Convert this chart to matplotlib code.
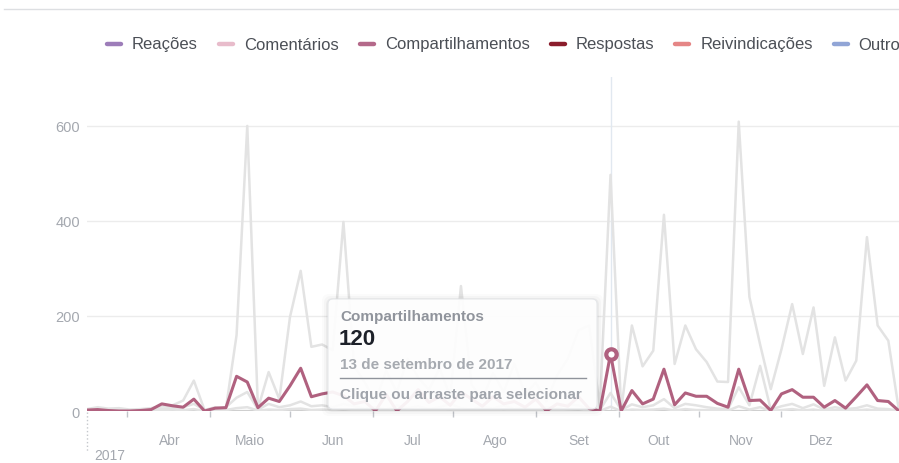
import matplotlib
matplotlib.use("Agg")
import matplotlib.pyplot as plt
from matplotlib.patches import FancyBboxPatch
from matplotlib.lines import Line2D
from matplotlib.transforms import IdentityTransform
import matplotlib.dates as mdates
import pandas as pd

W, H = 899, 464
plt.rcParams["font.family"] = ["Liberation Sans", "DejaVu Sans"]

# samples every 4 days, March to December 2017
dates = pd.date_range("2017-03-01", periods=77, freq="4D")

reacoes = [4, 8, 5, 6, 3, 4, 6, 10, 12, 22, 64, 2, 8, 5, 160, 600, 5, 82, 25, 198, 295, 135, 140, 128, 398,
           95, 60, 20, 85, 40, 110, 70, 45, 90, 30, 263, 55, 25, 80, 40, 100, 35, 60, 20, 75, 110, 170, 180, 8,
           497, 2, 180, 94, 127, 413, 99, 180, 130, 103, 62, 61, 609, 240, 140, 46, 130, 225, 120, 218, 53, 155,
           64, 106, 366, 180, 148, 0]
comentarios = [2, 3, 2, 1, 1, 2, 3, 5, 6, 8, 15, 2, 5, 8, 28, 40, 3, 15, 8, 12, 20, 10, 12, 8, 15,
               10, 5, 8, 3, 12, 6, 10, 4, 8, 15, 6, 3, 9, 5, 12, 4, 7, 2, 8, 6, 14, 12, 3, 2,
               38, 2, 14, 8, 12, 25, 6, 15, 12, 8, 5, 4, 50, 12, 95, 3, 10, 15, 6, 14, 3, 8, 4, 6, 12, 5, 4, 0]
compartilhamentos = [2, 3, 1, 0, 0, 1, 3, 15, 11, 8, 25, 0, 6, 7, 73, 61, 7, 27, 20, 53, 90, 30, 36,
                     40, 32, 15, 20, 0, 35, 0, 20, 45, 18, 30, 12, 40, 25, 10, 30, 15, 20, 8, 25, 0, 15, 10, 30, 5, 0,
                     120, 0, 43, 15, 25, 88, 13, 38, 31, 31, 16, 8, 88, 22, 23, 1, 36, 45, 29, 29, 8, 22, 6, 30, 55,
                     22, 20, 0]
respostas = [1, 2, 1, 0, 0, 1, 1, 2, 3, 2, 4, 0, 1, 2, 6, 8, 1, 3, 2, 4, 5, 2, 3, 2, 4,
             2, 1, 2, 0, 3, 1, 2, 1, 2, 3, 1, 0, 2, 1, 3, 1, 2, 0, 1, 2, 3, 4, 1, 0,
             9, 0, 3, 2, 3, 5, 1, 4, 2, 2, 1, 1, 10, 3, 8, 0, 2, 4, 1, 3, 0, 2, 1, 1, 3, 1, 1, 0]

legend_labels = ["Reações", "Comentários", "Compartilhamentos", "Respostas", "Reivindicações", "Outros"]
legend_colors = ["#9d7db9", "#e8bccb", "#b4698a", "#8b1d2c", "#e58686", "#91a5d6"]

month_labels = ["Abr", "Maio", "Jun", "Jul", "Ago", "Set", "Out", "Nov", "Dez"]
month_starts = pd.date_range("2017-04-01", periods=9, freq="MS")
mid_months = [pd.Timestamp(2017, m, 16) for m in range(3, 12)]
meses = ["janeiro", "fevereiro", "março", "abril", "maio", "junho", "julho",
         "agosto", "setembro", "outubro", "novembro", "dezembro"]

hover = 49
SHARE = "#b0617f"
GRAY = "#e3e3e3"
AXIS_TXT = "#a4a8af"


def fx(x):
    return x / W


def fy(y):
    return 1 - y / H


fig = plt.figure(figsize=(W / 100, H / 100), dpi=100)
ax = fig.add_axes([fx(87), fy(412), fx(899 - 87), (412 - 78) / H])

for series in (respostas, comentarios, reacoes):
    ax.plot(dates, series, color=GRAY, lw=1.8, zorder=3)
ax.axvline(dates[hover], color="#e1e8f0", lw=1.0, zorder=1)
ax.axhline(0, color="#cfcfcf", lw=1.6, zorder=2)
ax.plot(dates, compartilhamentos, color=SHARE, lw=2.2, zorder=5)
ax.plot(dates[hover], compartilhamentos[hover], "o", ms=7.5, mfc="white", mec=SHARE, mew=3, zorder=6)

ax.set_xlim(dates[0], dates[-1])
ax.set_ylim(0, 703)
for s in ax.spines.values():
    s.set_visible(False)
ax.set_yticks([0, 200, 400, 600])
ax.set_yticklabels(["0", "200", "400", "600"])
ax.yaxis.grid(True, color="#ececec", lw=1.0)
ax.set_axisbelow(True)
ax.tick_params(axis="y", length=0, pad=5, labelsize=10.5, labelcolor=AXIS_TXT)

ax.set_xticks(mdates.date2num(month_starts))
ax.set_xticklabels(month_labels)
ax.set_xticks(mdates.date2num(mid_months), minor=True)
ax.tick_params(axis="x", which="major", length=0, pad=16, labelsize=10, labelcolor=AXIS_TXT)
ax.tick_params(axis="x", which="minor", length=4, width=1, color="#c2c5ca")

# year marker at the left edge
fig.add_artist(Line2D([fx(87), fx(87)], [fy(413), fy(452)], color="#c5c8cc", lw=1, ls=":"))
fig.text(fx(94), fy(456), "2017", fontsize=10, color=AXIS_TXT, va="center", ha="left")

# top separator
fig.add_artist(Line2D([fx(4), fx(899)], [fy(10), fy(10)], color="#dddfe2", lw=1))

# legend row
fig.canvas.draw()
renderer = fig.canvas.get_renderer()
x = 105
for label, color in zip(legend_labels, legend_colors):
    fig.add_artist(Line2D([fx(x + 2), fx(x + 16)], [fy(45), fy(45)], color=color, lw=3.2,
                          solid_capstyle="round"))
    t = fig.text(fx(x + 27), fy(45), label, fontsize=12, color="#4b4f56", va="center", ha="left")
    bb = t.get_window_extent(renderer)
    x = bb.x1 + 19

# hover tooltip
x0, y0, x1, y1 = 328, 300, 597, 410
ident = IdentityTransform()
for k, a in [(6, 0.015), (4, 0.025), (2, 0.04)]:
    fig.add_artist(FancyBboxPatch((x0 - k, H - y1 - k - 1), x1 - x0 + 2 * k, y1 - y0 + 2 * k,
                                  boxstyle="round,pad=0,rounding_size=7", transform=ident,
                                  facecolor="#000000", edgecolor="none", alpha=a, zorder=8))
fig.add_artist(FancyBboxPatch((x0, H - y1), x1 - x0, y1 - y0,
                              boxstyle="round,pad=0,rounding_size=5", transform=ident,
                              facecolor="white", edgecolor="#e4e6e9", lw=0.8, alpha=0.93, zorder=9))
d = dates[hover]
fig.text(fx(340), fy(317), "Compartilhamentos", fontsize=11, fontweight="bold", color="#90949c",
         va="center", zorder=10)
fig.text(fx(339), fy(340), str(compartilhamentos[hover]), fontsize=16, fontweight="bold",
         color="#1d2129", va="center", zorder=10)
fig.text(fx(340), fy(365), f"{d.day} de {meses[d.month - 1]} de {d.year}", fontsize=11,
         fontweight="bold", color="#a6aab0", va="center", zorder=10)
fig.add_artist(Line2D([fx(340), fx(586)], [fy(379), fy(379)], color="#8f939b", lw=1, zorder=10))
fig.text(fx(340), fy(395), "Clique ou arraste para selecionar", fontsize=11, fontweight="bold",
         color="#a0a4ab", va="center", zorder=10)

fig.savefig("out.png", dpi=100)
